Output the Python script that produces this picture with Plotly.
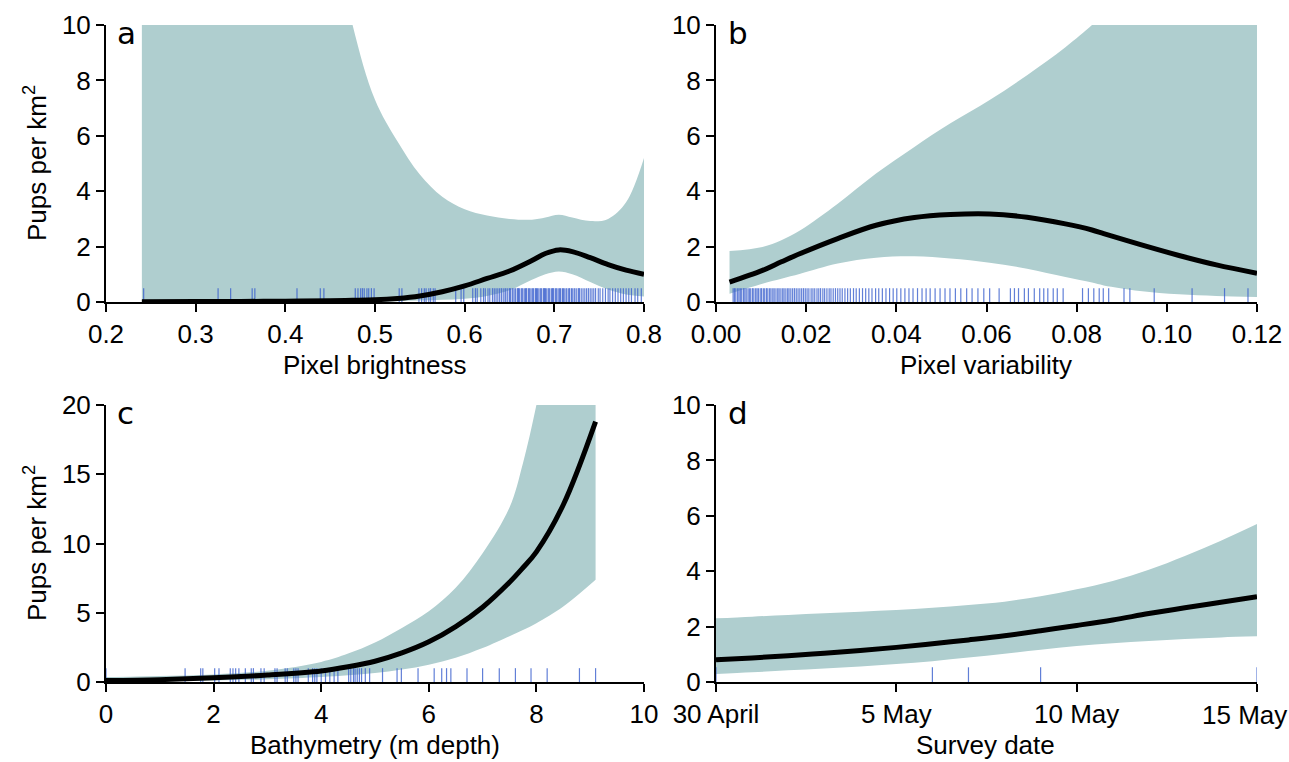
import plotly.graph_objects as go

W, H = 1289, 762

# ---------------- Panel a: Pixel brightness ----------------
a_x     = [0.24, 0.30, 0.35, 0.40, 0.45, 0.475, 0.50, 0.525, 0.55, 0.575, 0.60, 0.625, 0.65, 0.675, 0.69, 0.705, 0.72, 0.74, 0.76, 0.78, 0.80]
a_mean  = [0.01, 0.015, 0.02, 0.03, 0.045, 0.06, 0.08, 0.13, 0.22, 0.37, 0.58, 0.85, 1.12, 1.50, 1.75, 1.88, 1.82, 1.60, 1.35, 1.15, 1.00]
a_upper = [60, 45, 32, 22, 14, 10.0, 7.3, 5.8, 4.6, 3.8, 3.35, 3.12, 3.0, 2.97, 3.05, 3.15, 3.05, 2.92, 3.0, 3.6, 5.2]
a_lower = [0.003, 0.004, 0.005, 0.006, 0.008, 0.01, 0.015, 0.03, 0.05, 0.08, 0.12, 0.22, 0.42, 0.8, 1.0, 1.1, 1.0, 0.72, 0.45, 0.27, 0.2]
a_rug = [0.242, 0.325, 0.339, 0.363, 0.366, 0.413, 0.439, 0.443, 0.478, 0.481, 0.484, 0.486,
         0.488, 0.491, 0.493, 0.496, 0.499, 0.527, 0.530, 0.549, 0.552, 0.555, 0.557, 0.560,
         0.562, 0.565, 0.567, 0.590, 0.596, 0.599,
         0.609, 0.612, 0.614, 0.618, 0.621, 0.623, 0.626, 0.628, 0.631, 0.633, 0.635, 0.637,
         0.639, 0.641, 0.643, 0.645, 0.646, 0.648, 0.650, 0.651, 0.653, 0.654, 0.656, 0.657,
         0.659, 0.660, 0.661, 0.663, 0.664, 0.665, 0.667, 0.668, 0.669, 0.671, 0.672, 0.673,
         0.675, 0.676, 0.677, 0.679, 0.680, 0.681, 0.682, 0.684, 0.685, 0.686, 0.688, 0.689,
         0.690, 0.691, 0.693, 0.694, 0.695, 0.697, 0.698, 0.699, 0.701, 0.702, 0.703, 0.705,
         0.706, 0.707, 0.709, 0.710, 0.711, 0.713, 0.714, 0.716, 0.717, 0.719, 0.720, 0.722,
         0.723, 0.725, 0.727, 0.728, 0.730, 0.732, 0.734, 0.736, 0.738, 0.740, 0.742, 0.744,
         0.746, 0.749, 0.751, 0.754, 0.757, 0.760, 0.762, 0.765, 0.768, 0.771, 0.774, 0.777,
         0.780, 0.783, 0.786, 0.790, 0.793, 0.797]

# ---------------- Panel b: Pixel variability ----------------
b_x     = [0.003, 0.0103, 0.0145, 0.0187, 0.027, 0.0355, 0.044, 0.052, 0.0607, 0.069, 0.0775, 0.0834, 0.086, 0.094, 0.1027, 0.111, 0.12]
b_mean  = [0.72, 1.14, 1.45, 1.75, 2.29, 2.77, 3.05, 3.16, 3.18, 3.06, 2.82, 2.60, 2.47, 2.08, 1.68, 1.34, 1.04]
b_upper = [1.84, 1.99, 2.23, 2.59, 3.55, 4.64, 5.6, 6.45, 7.29, 8.19, 9.2, 10.0, 10.4, 11.5, 12.8, 14.2, 16.0]
b_lower = [0.30, 0.66, 0.84, 1.02, 1.39, 1.60, 1.65, 1.57, 1.42, 1.20, 0.90, 0.70, 0.60, 0.40, 0.28, 0.22, 0.18]
b_rug = [0.0038, 0.0041, 0.0044, 0.0048, 0.0051, 0.0054, 0.0057, 0.0061, 0.0064, 0.0067, 0.0071,
         0.0074, 0.0077, 0.0081, 0.0084, 0.0088, 0.0091, 0.0094, 0.0098, 0.0101, 0.0105, 0.0108,
         0.0112, 0.0115, 0.0119, 0.0122, 0.0126, 0.0129, 0.0133, 0.0137, 0.0140, 0.0144, 0.0148,
         0.0151, 0.0155, 0.0159, 0.0162, 0.0166, 0.0170, 0.0174, 0.0178, 0.0182, 0.0186, 0.0190,
         0.0194, 0.0198, 0.0202, 0.0206, 0.0211, 0.0215, 0.0219, 0.0224, 0.0228, 0.0232, 0.0237,
         0.0241, 0.0246, 0.0251, 0.0255, 0.0260, 0.0265, 0.0270, 0.0275, 0.0280, 0.0286, 0.0292,
         0.0298, 0.0305, 0.0311, 0.0318, 0.0325, 0.0332, 0.0339, 0.0346, 0.0354, 0.0361, 0.0369,
         0.0377, 0.0385, 0.0393, 0.0401, 0.0410, 0.0419, 0.0428, 0.0437, 0.0447, 0.0457, 0.0466,
         0.0475, 0.0486, 0.0497, 0.0508, 0.0519, 0.0531, 0.0543, 0.0556, 0.0568, 0.0581, 0.0594,
         0.0607, 0.0628, 0.0653, 0.0662, 0.0671, 0.0684, 0.0693, 0.0706, 0.0718, 0.0727, 0.0736,
         0.0748, 0.0757, 0.0770, 0.0813, 0.0826, 0.0838, 0.0850, 0.0859, 0.0871, 0.0905, 0.0918,
         0.0972, 0.1056, 0.1128, 0.1180]

# ---------------- Panel c: Bathymetry ----------------
c_x     = [0.0, 1.0, 2.0, 3.0, 4.0, 4.5, 5.0, 5.5, 6.0, 6.5, 7.0, 7.5, 7.75, 8.0, 8.5, 9.1]
c_mean  = [0.10, 0.17, 0.30, 0.50, 0.80, 1.10, 1.50, 2.10, 2.90, 4.00, 5.40, 7.20, 8.25, 9.40, 12.8, 18.8]
c_upper = [0.36, 0.44, 0.55, 0.82, 1.45, 2.05, 2.85, 3.90, 5.10, 6.80, 9.30, 12.6, 15.8, 20.0, 30.0, 48.0]
c_lower = [0.02, 0.05, 0.10, 0.20, 0.36, 0.48, 0.65, 0.90, 1.25, 1.75, 2.45, 3.30, 3.75, 4.25, 5.45, 7.38]
c_rug = [0.0, 1.47, 1.76, 1.80, 2.02, 2.10, 2.31, 2.36, 2.41, 2.47, 2.59, 2.70, 2.74, 2.88, 2.94,
         3.14, 3.18, 3.33, 3.37, 3.49, 3.53, 3.57, 3.76, 3.84, 3.88, 3.92, 4.00, 4.08, 4.16, 4.24,
         4.31, 4.51, 4.55, 4.60, 4.63, 4.67, 4.71, 4.75, 4.82, 4.90, 5.14, 5.41, 5.49, 5.80, 6.10,
         6.24, 6.33, 6.41, 6.71, 7.00, 7.31, 7.61, 7.90, 8.20, 8.80, 9.10]

# ---------------- Panel d: Survey date (days after 30 April) ----------------
d_x     = [0, 1, 2, 3, 4, 5, 6, 7, 8, 9, 10, 11, 12, 13, 14, 15]
d_mean  = [0.80, 0.87, 0.95, 1.04, 1.14, 1.25, 1.38, 1.52, 1.67, 1.85, 2.04, 2.24, 2.47, 2.68, 2.88, 3.08]
d_upper = [2.30, 2.36, 2.42, 2.48, 2.54, 2.60, 2.68, 2.78, 2.90, 3.10, 3.35, 3.65, 4.05, 4.55, 5.10, 5.70]
d_lower = [0.29, 0.35, 0.42, 0.49, 0.56, 0.65, 0.75, 0.88, 1.02, 1.16, 1.30, 1.40, 1.48, 1.55, 1.61, 1.65]
d_rug = [0, 6, 7, 9, 15]
d_ticks = [0, 5, 10, 15]
d_ticktext = ["30 April", "5 May", "10 May", "15 May"]

BAND = "#afcecf"
RUG = "rgba(58,95,205,0.8)"
FONT = "Liberation Sans, Arial, sans-serif"
FS = 26

fig = go.Figure()


def add_panel(xs, mean, upper, lower, rug, rug_h, ax):
    xa, ya = ("x", "y") if ax == 1 else ("x%d" % ax, "y%d" % ax)
    fig.add_trace(go.Scatter(x=xs, y=lower, mode="lines", line=dict(width=0, color=BAND, shape="spline"),
                             xaxis=xa, yaxis=ya, showlegend=False, hoverinfo="skip"))
    fig.add_trace(go.Scatter(x=xs, y=upper, mode="lines", line=dict(width=0, color=BAND, shape="spline"),
                             fill="tonexty", fillcolor=BAND, xaxis=xa, yaxis=ya,
                             showlegend=False, hoverinfo="skip"))
    rx, ry = [], []
    for v in rug:
        rx += [v, v, None]
        ry += [0, rug_h, None]
    fig.add_trace(go.Scatter(x=rx, y=ry, mode="lines", line=dict(width=1.2, color=RUG),
                             xaxis=xa, yaxis=ya, showlegend=False, hoverinfo="skip"))
    fig.add_trace(go.Scatter(x=xs, y=mean, mode="lines", line=dict(width=5, color="black", shape="spline"),
                             xaxis=xa, yaxis=ya, showlegend=False))


add_panel(a_x, a_mean, a_upper, a_lower, a_rug, 0.5, 1)
add_panel(b_x, b_mean, b_upper, b_lower, b_rug, 0.5, 2)
add_panel(c_x, c_mean, c_upper, c_lower, c_rug, 1.0, 3)
add_panel(d_x, d_mean, d_upper, d_lower, d_rug, 0.53, 4)

L = (106 / W, 644 / W)
R = (716 / W, 1257 / W)
T = (1 - 302 / H, 1 - 25 / H)
B = (1 - 682 / H, 1 - 405 / H)

axis_common = dict(showgrid=False, zeroline=False, showline=True, linecolor="black", linewidth=2,
                   ticks="outside", ticklen=8, tickwidth=1.5, tickcolor="black", automargin=False,
                   tickfont=dict(family=FONT, size=FS, color="black"))

# the last date label sits at the right edge of the page; it is drawn as an annotation below
d_ticktext_axis = d_ticktext[:-1] + [""]

fig.update_layout(
    template="none",
    width=W, height=H, margin=dict(l=0, r=0, t=0, b=0, autoexpand=False),
    paper_bgcolor="white", plot_bgcolor="white",
    xaxis=dict(domain=L, anchor="y", range=[0.2, 0.8], tickvals=[0.2, 0.3, 0.4, 0.5, 0.6, 0.7, 0.8],
               ticktext=["0.2", "0.3", "0.4", "0.5", "0.6", "0.7", "0.8"], **axis_common),
    yaxis=dict(domain=T, anchor="x", range=[0, 10], tickvals=[0, 2, 4, 6, 8, 10], **axis_common),
    xaxis2=dict(domain=R, anchor="y2", range=[0, 0.12], tickvals=[0, 0.02, 0.04, 0.06, 0.08, 0.10, 0.12],
                ticktext=["0.00", "0.02", "0.04", "0.06", "0.08", "0.10", "0.12"], **axis_common),
    yaxis2=dict(domain=T, anchor="x2", range=[0, 10], tickvals=[0, 2, 4, 6, 8, 10], **axis_common),
    xaxis3=dict(domain=L, anchor="y3", range=[0, 10], tickvals=[0, 2, 4, 6, 8, 10], **axis_common),
    yaxis3=dict(domain=B, anchor="x3", range=[0, 20], tickvals=[0, 5, 10, 15, 20], **axis_common),
    xaxis4=dict(domain=R, anchor="y4", range=[0, 15], tickvals=d_ticks, ticktext=d_ticktext_axis, **axis_common),
    yaxis4=dict(domain=B, anchor="x4", range=[0, 10], tickvals=[0, 2, 4, 6, 8, 10], **axis_common),
)

ann = []
lab_font = dict(family="DejaVu Sans, sans-serif", size=31, color="black")
for txt, xp, yp in [("a", 115, 33), ("b", 726, 33), ("c", 115, 413), ("d", 726, 413)]:
    ann.append(dict(text=txt, x=xp / W, y=1 - yp / H, xref="paper", yref="paper",
                    xanchor="left", yanchor="middle", showarrow=False, font=lab_font))
tfont = dict(family=FONT, size=FS, color="black")
for txt, xp, yp in [("Pixel brightness", 375, 365), ("Pixel variability", 986, 365),
                    ("Bathymetry (m depth)", 375, 745), ("Survey date", 986, 745)]:
    ann.append(dict(text=txt, x=xp / W, y=1 - yp / H, xref="paper", yref="paper",
                    xanchor="center", yanchor="middle", showarrow=False, font=tfont))
for yp in [163, 543]:
    ann.append(dict(text="Pups per km<sup>2</sup>", x=35 / W, y=1 - yp / H, xref="paper", yref="paper",
                    xanchor="center", yanchor="middle", textangle=-90, showarrow=False, font=tfont))
# last date tick label, kept inside the page
ann.append(dict(text=d_ticktext[-1], x=1, y=1 - 715 / H, xref="paper", yref="paper",
                xanchor="right", yanchor="middle", showarrow=False, font=tfont))
fig.update_layout(annotations=ann)

fig.write_html("out.html")
